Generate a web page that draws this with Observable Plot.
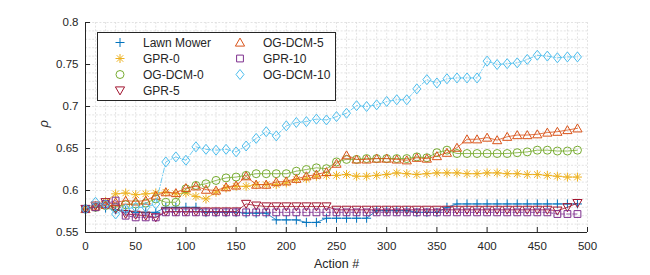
<!DOCTYPE html>
<html>
<head>
<meta charset="utf-8">
<script src="https://cdn.jsdelivr.net/npm/d3@7"></script>
<script src="https://cdn.jsdelivr.net/npm/@observablehq/plot@0.6"></script>
<style>
  html, body { margin: 0; padding: 0; background: #ffffff; }
  #wrap { position: relative; width: 650px; height: 275px; font-family: "Liberation Sans", Arial, Helvetica, sans-serif; }
  #legend { position: absolute; left: 0; top: 0; pointer-events: none; }
</style>
</head>
<body>
<div id="wrap"></div>
<script>
// ---------------- data ----------------
const actions = [0,10,20,30,40,50,60,70,80,90,100,110,120,130,140,150,160,170,180,190,200,210,220,230,240,250,260,270,280,290,300,310,320,330,340,350,360,370,380,390,400,410,420,430,440,450,460,470,480,490];

const seriesNames = ["Lawn Mower","GPR-0","OG-DCM-0","GPR-5","OG-DCM-5","GPR-10","OG-DCM-10"];

const lawnMower = [0.578,0.580,0.579,0.577,0.576,0.574,0.574,0.574,0.580,0.580,0.580,0.580,0.574,0.574,0.574,0.574,0.573,0.573,0.573,0.565,0.565,0.565,0.562,0.562,0.567,0.567,0.567,0.567,0.567,0.576,0.576,0.576,0.576,0.574,0.574,0.574,0.580,0.584,0.584,0.584,0.584,0.584,0.584,0.584,0.584,0.584,0.584,0.584,0.584,0.584];
const gpr0 = [0.578,0.582,0.587,0.596,0.597,0.595,0.596,0.597,0.598,0.596,0.597,0.593,0.590,0.598,0.603,0.605,0.605,0.607,0.607,0.607,0.609,0.613,0.614,0.617,0.618,0.618,0.619,0.617,0.617,0.618,0.619,0.621,0.620,0.619,0.620,0.621,0.621,0.621,0.620,0.620,0.621,0.621,0.620,0.620,0.619,0.619,0.618,0.617,0.616,0.616];
const ogdcm0 = [0.578,0.580,0.582,0.580,0.583,0.584,0.585,0.590,0.586,0.586,0.602,0.606,0.608,0.612,0.615,0.616,0.618,0.620,0.620,0.620,0.620,0.623,0.625,0.627,0.626,0.634,0.637,0.637,0.638,0.638,0.638,0.638,0.638,0.640,0.639,0.645,0.648,0.644,0.644,0.644,0.644,0.644,0.644,0.645,0.646,0.648,0.648,0.647,0.647,0.648];
const gpr5 = [0.578,0.582,0.586,0.578,0.572,0.571,0.570,0.568,0.575,0.575,0.575,0.575,0.575,0.575,0.575,0.575,0.584,0.582,0.581,0.581,0.581,0.581,0.581,0.581,0.581,0.577,0.577,0.577,0.577,0.577,0.577,0.577,0.577,0.577,0.577,0.577,0.577,0.577,0.577,0.577,0.577,0.577,0.577,0.577,0.577,0.577,0.577,0.576,0.580,0.585];
const ogdcm5 = [0.578,0.581,0.583,0.586,0.588,0.587,0.588,0.594,0.598,0.597,0.603,0.605,0.601,0.600,0.604,0.606,0.617,0.607,0.607,0.610,0.611,0.614,0.617,0.619,0.622,0.632,0.642,0.637,0.637,0.638,0.638,0.637,0.636,0.639,0.638,0.641,0.645,0.651,0.661,0.661,0.663,0.660,0.664,0.666,0.666,0.667,0.669,0.670,0.672,0.674];
const gpr10 = [0.578,0.580,0.584,0.588,0.570,0.568,0.568,0.568,0.574,0.574,0.574,0.574,0.574,0.574,0.574,0.574,0.574,0.574,0.574,0.574,0.574,0.574,0.574,0.574,0.574,0.574,0.574,0.574,0.574,0.574,0.574,0.574,0.574,0.574,0.574,0.574,0.574,0.574,0.574,0.574,0.574,0.574,0.574,0.574,0.574,0.574,0.574,0.572,0.572,0.572];
const ogdcm10 = [0.578,0.586,0.583,0.572,0.578,0.580,0.580,0.584,0.634,0.640,0.636,0.652,0.649,0.648,0.649,0.646,0.653,0.662,0.670,0.665,0.677,0.681,0.682,0.685,0.684,0.688,0.692,0.701,0.700,0.702,0.706,0.708,0.708,0.721,0.732,0.728,0.733,0.734,0.734,0.734,0.754,0.750,0.751,0.752,0.756,0.761,0.760,0.758,0.759,0.759];

const xTicks = [0,50,100,150,200,250,300,350,400,450,500];
const yTicks = [0.55,0.6,0.65,0.7,0.75,0.8];
const yTickLabels = ["0.55","0.6","0.65","0.7","0.75","0.8"];
const xMinor = [0,10,20,30,40,50,60,70,80,90,100,110,120,130,140,150,160,170,180,190,200,210,220,230,240,250,260,270,280,290,300,310,320,330,340,350,360,370,380,390,400,410,420,430,440,450,460,470,480,490,500];
const yMinor = [0.56,0.57,0.58,0.59,0.6,0.61,0.62,0.63,0.64,0.65,0.66,0.67,0.68,0.69,0.7,0.71,0.72,0.73,0.74,0.75,0.76,0.77,0.78,0.79,0.8];

// ---------------- symbols (MATLAB-like markers) ----------------
const symPlus = {draw(c){const r=4.5;c.moveTo(-r,0);c.lineTo(r,0);c.moveTo(0,-r);c.lineTo(0,r);}};
const symStar = {draw(c){const r=4.5,d=r*0.72;c.moveTo(-r,0);c.lineTo(r,0);c.moveTo(0,-r);c.lineTo(0,r);c.moveTo(-d,-d);c.lineTo(d,d);c.moveTo(-d,d);c.lineTo(d,-d);}};
const symCircle = {draw(c){const r=4;c.moveTo(r,0);c.arc(0,0,r,0,2*Math.PI);c.closePath();}};
const symTriDown = {draw(c){c.moveTo(-4.6,-3.6);c.lineTo(4.6,-3.6);c.lineTo(0,4.4);c.closePath();}};
const symTriUp = {draw(c){c.moveTo(-4.6,3.6);c.lineTo(4.6,3.6);c.lineTo(0,-4.4);c.closePath();}};
const symSquare = {draw(c){const r=3.4;c.rect(-r,-r,2*r,2*r);}};
const symDiamond = {draw(c){c.moveTo(0,-5);c.lineTo(4,0);c.lineTo(0,5);c.lineTo(-4,0);c.closePath();}};

const styles = [
  {values: lawnMower, color: "#0072BD", symbol: symPlus,    dash: null},
  {values: gpr0,      color: "#EDB120", symbol: symStar,    dash: null},
  {values: ogdcm0,    color: "#77AC30", symbol: symCircle,  dash: null},
  {values: gpr5,      color: "#A2142F", symbol: symTriDown, dash: null},
  {values: ogdcm5,    color: "#D95319", symbol: symTriUp,   dash: null},
  {values: gpr10,     color: "#7E2F8E", symbol: symSquare,  dash: "4,2"},
  {values: ogdcm10,   color: "#4DBEEE", symbol: symDiamond, dash: "5,2,1,2"}
];

const seriesMarks = [];
styles.forEach((s, k) => {
  const rows = actions.map((a, i) => ({action: a, rho: s.values[i], series: seriesNames[k]}));
  seriesMarks.push(Plot.line(rows, {x: "action", y: "rho", stroke: s.color, strokeWidth: 0.8, strokeDasharray: s.dash}));
  seriesMarks.push(Plot.dot(rows, {x: "action", y: "rho", symbol: s.symbol, r: 4, stroke: s.color, fill: "none", strokeWidth: 1}));
});

const axisColor = "#262626";
const gridColor = "#dcdcdc";

const chart = Plot.plot({
  width: 650,
  height: 275,
  marginLeft: 85,
  marginRight: 63,
  marginTop: 22,
  marginBottom: 43,
  x: {domain: [0, 500]},
  y: {domain: [0.55, 0.8]},
  style: {fontFamily: '"Liberation Sans", Arial, Helvetica, sans-serif', fontSize: "11.5px", color: axisColor, background: "#ffffff", overflow: "visible"},
  marks: [
    Plot.ruleX(xMinor, {x: d => d, stroke: gridColor, strokeWidth: 0.8, strokeDasharray: "2,1.6"}),
    Plot.ruleY(yMinor, {y: d => d, stroke: gridColor, strokeWidth: 0.8, strokeDasharray: "2,1.6"}),
    ...seriesMarks,
    Plot.ruleX(xTicks, {x: d => d, y1: 0.55, y2: 0.556, stroke: axisColor, strokeWidth: 1}),
    Plot.ruleY(yTicks, {y: d => d, x1: 0, x2: 5, stroke: axisColor, strokeWidth: 1}),
    Plot.ruleX([0], {stroke: axisColor, strokeWidth: 1}),
    Plot.ruleY([0.55], {stroke: axisColor, strokeWidth: 1}),
    Plot.axisX({ticks: xTicks, tickSize: 0, tickPadding: 9, label: null, tickFormat: d => String(d)}),
    Plot.axisY({ticks: yTicks, tickSize: 0, tickPadding: 7, label: null, tickFormat: (d, i) => yTickLabels[yTicks.indexOf(d)] ?? String(d)}),
    Plot.text(["Action #"], {text: d => d, frameAnchor: "bottom", dy: 35, fontSize: 12.5, fill: axisColor}),
    Plot.text(["ρ"], {text: d => d, frameAnchor: "left", dx: -42, rotate: -90, fontSize: 13, fontStyle: "italic", fill: axisColor})
  ]
});

const wrap = document.getElementById("wrap");
wrap.appendChild(chart);

// ---------------- legend ----------------
const legendEntries = seriesNames.map((name, k) => ({name, style: styles[k], col: k < 4 ? 0 : 1, row: k < 4 ? k : k - 4}));
const lg = d3.select(wrap).append("svg")
  .attr("id", "legend")
  .attr("width", 650).attr("height", 275);
const box = {x: 97, y: 32, w: 238, h: 68};
lg.append("rect").attr("x", box.x + 0.5).attr("y", box.y + 0.5).attr("width", box.w).attr("height", box.h)
  .attr("fill", "#ffffff").attr("stroke", axisColor).attr("stroke-width", 1);
const colMarkX = [120, 240];
const colTextX = [143, 263];
const rowY = [42.5, 58.5, 74.5, 90.5];
const g = lg.selectAll("g.entry").data(legendEntries).join("g").attr("class", "entry");
g.append("path")
  .attr("transform", d => `translate(${colMarkX[d.col]},${rowY[d.row]})`)
  .attr("d", d => d3.symbol(d.style.symbol)())
  .attr("fill", "none").attr("stroke", d => d.style.color).attr("stroke-width", 1);
g.append("text")
  .attr("x", d => colTextX[d.col]).attr("y", d => rowY[d.row])
  .attr("dy", "0.35em")
  .attr("font-size", "12px")
  .attr("font-family", '"Liberation Sans", Arial, Helvetica, sans-serif')
  .attr("fill", axisColor)
  .text(d => d.name);
</script>
</body>
</html>
